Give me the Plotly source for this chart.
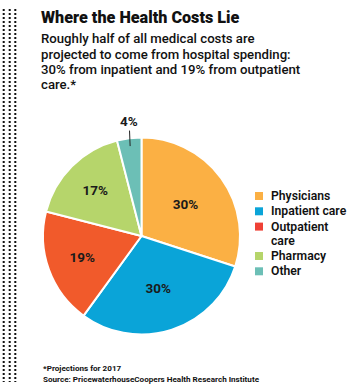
import plotly.graph_objects as go

# ---- data ----
categories = ["Physicians", "Inpatient care", "Outpatient care", "Pharmacy", "Other"]
legend_labels = ["Physicians", "Inpatient care", "Outpatient\ncare", "Pharmacy", "Other"]
shares = [30, 30, 19, 17, 4]
colors = ["#FBB044", "#0AA4D8", "#F15A2B", "#B6D56B", "#6CBFB6"]
legend_swatch_colors = ["#FBB044", "#0AA4D8", "#EF4136", "#B6D56B", "#6CBFB6"]
callout_slices = [False, False, False, False, True]   # labelled outside with a leader

title_text = "Where the Health Costs Lie"
subtitle_lines = [
    "Roughly half of all medical costs are",
    "projected to come from hospital spending:",
    "30% from inpatient and 19% from outpatient",
    "care.*",
]
footnote_lines = [
    "*Projections for 2017",
    "Source: PricewaterhouseCoopers Health Research Institute",
]

import math

W, H = 350, 388
FONT = "Roboto"

fig = go.Figure()

# pie
cx, cy, R = 141.5, 236.0, 98.5
fig.add_trace(go.Pie(
    labels=categories,
    values=shares,
    sort=False,
    direction="clockwise",
    rotation=0,
    marker=dict(colors=colors, line=dict(color="white", width=2)),
    texttemplate=["" if c else "%{value}%" for c in callout_slices],
    textposition="inside",
    insidetextorientation="horizontal",
    textfont=dict(family=FONT, size=13.5, color="#1a1a1a", weight="bold"),
    showlegend=False,
    hoverinfo="label+percent",
    domain=dict(x=[(cx - R) / W, (cx + R) / W], y=[1 - (cy + R) / H, 1 - (cy - R) / H]),
))

annotations = []
def add_text(txt, x, yc, size, weight, color="#111111"):
    annotations.append(dict(
        text=txt, x=x, y=yc, xref="x", yref="y", xanchor="left", yanchor="middle",
        showarrow=False, font=dict(family=FONT, size=size, color=color, weight=weight),
    ))

# callout labels for small slices, placed from the slice's mid angle
total = sum(shares)
cum = 0
for v, c in zip(shares, callout_slices):
    if c:
        mid = (cum + v / 2) / total * 2 * math.pi
        hx = cx + 0.92 * R * math.sin(mid)
        hy = cy - 0.92 * R * math.cos(mid)
        annotations.append(dict(
            text=f"{v}%", x=hx, y=hy, xref="x", yref="y",
            showarrow=True, arrowhead=0, arrowwidth=1, arrowcolor="#222222",
            ax=-1, ay=-25, standoff=0,
            font=dict(family=FONT, size=13.5, color="#1a1a1a", weight="bold"),
        ))
    cum += v

# legend swatches (pixel-space overlay axis)
leg_x_sw, leg_x_txt = 259, 270
leg_y0, row_pitch, line_pitch = 196.0, 15.3, 14.1
sw_y = []
txt_items = []
y = leg_y0
for lab in legend_labels:
    parts = lab.split("\n")
    sw_y.append(y)
    for k, p in enumerate(parts):
        txt_items.append((p, y + k * line_pitch))
    y += row_pitch + (len(parts) - 1) * line_pitch

fig.add_trace(go.Scatter(
    x=[leg_x_sw] * len(sw_y), y=sw_y, mode="markers",
    marker=dict(symbol="square", size=8, color=legend_swatch_colors, line=dict(width=0)),
    hoverinfo="skip", showlegend=False, xaxis="x", yaxis="y",
))

add_text(title_text, 39, 17.5, 16.2, 900)
sub_y = [38.8, 54.1, 69.5, 84.8]
for t, yy in zip(subtitle_lines, sub_y):
    add_text(t, 39, yy, 13.2, 500)
for t, yy in txt_items:
    add_text(t, leg_x_txt - 1, yy, 12.2, 600)
foot_y = [368.0, 378.5]
for t, yy in zip(footnote_lines, foot_y):
    add_text(t, 41, yy, 8.1, 700)

# dotted rule on the left
shapes = []
for xd in [3.7, 9.7, 15.3]:
    shapes.append(dict(type="line", xref="x", yref="y", x0=xd, x1=xd, y0=9, y1=382,
                       line=dict(color="#111111", width=2, dash="2px,2px")))

fig.update_layout(
    width=W, height=H,
    margin=dict(l=0, r=0, t=0, b=0),
    paper_bgcolor="white", plot_bgcolor="rgba(0,0,0,0)",
    xaxis=dict(range=[0, W], visible=False, fixedrange=True, domain=[0, 1]),
    yaxis=dict(range=[H, 0], visible=False, fixedrange=True, domain=[0, 1]),
    annotations=annotations,
    shapes=shapes,
    showlegend=False,
)

fig.write_html("out.html", config={"displayModeBar": False})
